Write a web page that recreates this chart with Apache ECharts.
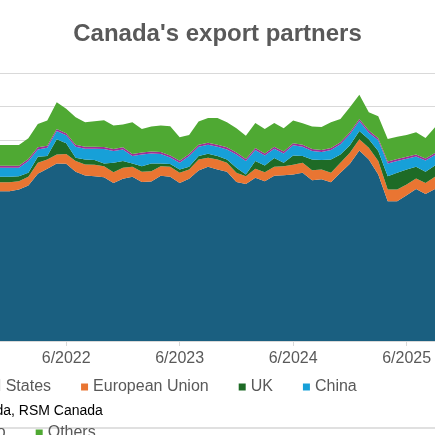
<!DOCTYPE html><html><head><meta charset="utf-8"><script src="https://cdn.jsdelivr.net/npm/echarts@6/dist/echarts.min.js"></script>
<style>html,body{margin:0;padding:0;background:#fff}#c{width:435px;height:435px}</style></head><body><div id="c"></div><script>
const months = ["11/2021","12/2021","1/2022","2/2022","3/2022","4/2022","5/2022","6/2022","7/2022","8/2022","9/2022","10/2022","11/2022","12/2022","1/2023","2/2023","3/2023","4/2023","5/2023","6/2023","7/2023","8/2023","9/2023","10/2023","11/2023","12/2023","1/2024","2/2024","3/2024","4/2024","5/2024","6/2024","7/2024","8/2024","9/2024","10/2024","11/2024","12/2024","1/2025","2/2025","3/2025","4/2025","5/2025","6/2025","7/2025","8/2025","9/2025"];
const unitedStates = [44.7,44.7,45.2,46.4,49.9,51.4,53.0,52.9,50.5,49.4,49.2,48.9,47.2,48.4,49.0,47.5,47.6,49.3,49.0,47.2,48.4,50.9,52.0,51.2,50.5,47.5,46.9,48.7,47.7,49.3,49.5,49.7,50.2,48.0,48.3,47.4,50.2,52.9,56.9,54.2,49.7,41.7,41.7,43.5,45.4,43.9,45.4];
const europeanUnion = [2.7,2.7,2.5,2.6,3.3,2.8,2.7,2.9,3.2,3.3,3.4,3.3,3.2,3.3,3.0,3.0,3.1,2.9,3.0,3.0,2.8,3.3,2.7,3.0,2.7,2.7,2.3,2.7,2.7,2.7,2.7,2.9,3.0,3.0,2.9,2.8,3.0,3.3,3.3,3.5,4.0,3.5,3.5,3.2,3.1,3.3,3.6];
const uk = [1.6,1.6,1.5,1.2,1.8,1.0,4.5,3.2,1.0,1.5,1.4,0.8,2.8,2.0,1.0,1.7,2.3,0.8,0.8,1.0,0.8,1.0,1.2,1.0,1.0,1.5,0.5,2.3,2.0,2.6,1.0,2.8,2.0,3.2,2.8,4.0,2.5,2.2,2.5,2.5,3.0,4.0,5.0,4.5,3.5,3.3,3.4];
const china = [2.7,2.7,2.5,3.5,2.2,2.5,2.5,2.4,3.3,3.2,3.4,4.3,3.5,3.5,2.2,3.5,3.0,2.8,2.0,2.0,3.2,2.8,2.7,2.8,3.0,4.0,4.0,3.3,3.0,2.8,2.8,3.0,2.8,2.5,2.4,2.8,3.0,3.3,3.0,2.0,3.2,3.8,3.5,3.2,3.1,3.4,3.1];
const mexico = [0.6,0.6,0.6,0.6,0.6,0.6,0.6,0.6,0.6,0.6,0.6,0.6,0.6,0.6,0.6,0.6,0.6,0.6,0.6,0.6,0.6,0.6,0.6,0.6,0.6,0.6,0.6,0.6,0.6,0.6,0.6,0.6,0.6,0.6,0.6,0.6,0.6,0.6,0.6,0.6,0.6,0.6,0.6,0.6,0.6,0.6,0.6];
const others = [6.2,6.2,6.2,6.2,7.0,7.5,8.0,7.3,8.2,7.3,7.6,8.0,7.0,6.8,9.5,7.0,7.4,7.9,8.7,7.0,5.7,6.9,7.4,8.0,7.5,7.2,7.0,7.5,7.3,7.1,6.9,6.8,6.4,6.7,6.9,7.7,7.0,7.5,7.2,5.5,6.6,6.7,6.7,6.5,6.6,6.1,7.7];
const seriesNames = ["United States","European Union","UK","China","Mexico","Others"];
const seriesData = [unitedStates,europeanUnion,uk,china,mexico,others];
const colors = ["#1a5f80","#e97532","#1e6b26","#17a0d8","#9e2f97","#4fa933"];
const chart = echarts.init(document.getElementById('c'));
chart.setOption({
  animation:false,
  title:{text:"Canada's export partners",left:'center',top:17,textStyle:{fontFamily:'Liberation Sans, Arial',fontSize:24,fontWeight:'bold',color:'#595959'}},
  grid:{left:-5.4,width:443,top:73,height:268},
  xAxis:{type:'category',data:months,boundaryGap:false,
    axisLine:{show:false},
    axisTick:{show:true,alignWithLabel:true,length:5,lineStyle:{color:'#d9d9d9'},interval:(i,v)=>v.startsWith('6/')},
    axisLabel:{interval:(i,v)=>v.startsWith('6/'),color:'#595959',fontSize:16,fontFamily:'Liberation Sans, Arial',margin:10}},
  yAxis:{type:'value',min:0,max:80,interval:10,axisLabel:{show:false},axisLine:{show:false},splitLine:{lineStyle:{color:'#d9d9d9',width:1}}},
  legend:{left:-62,top:374,itemWidth:7,itemHeight:7,itemGap:30,icon:'rect',textStyle:{color:'#595959',fontSize:16,fontFamily:'Liberation Sans, Arial'}},
  graphic:[
    {type:'text',left:-150,top:404,style:{text:'Source: Statistics Canada, RSM Canada',fill:'#000',fontSize:14,fontFamily:'Liberation Sans, Arial'}},
    {type:'line',shape:{x1:0,y1:428,x2:435,y2:428},style:{stroke:'#e0e0e0',lineWidth:2}}
  ],
  series:seriesNames.map((n,i)=>({name:n,type:'line',stack:'t',data:seriesData[i],symbol:'none',lineStyle:{width:0},areaStyle:{color:colors[i],opacity:1},itemStyle:{color:colors[i]}}))
});
</script></body></html>
